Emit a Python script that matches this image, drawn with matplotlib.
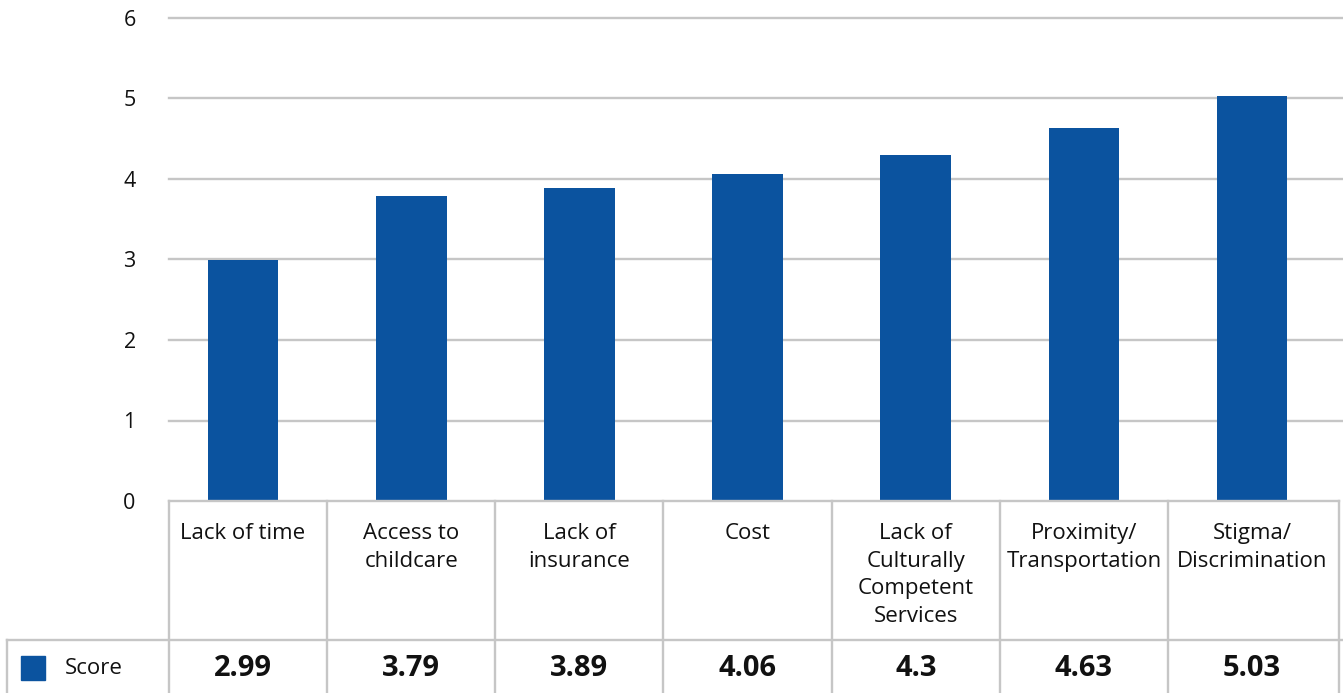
import matplotlib
matplotlib.use("Agg")
from matplotlib import pyplot as plt
from matplotlib.patches import Rectangle

# Scores per barrier
categories = ["Lack of time", "Access to\nchildcare", "Lack of\ninsurance", "Cost",
              "Lack of\nCulturally\nCompetent\nServices", "Proximity/\nTransportation",
              "Stigma/\nDiscrimination"]
scores = [2.99, 3.79, 3.89, 4.06, 4.3, 4.63, 5.03]
series_name = "Score"
yticks = [0, 1, 2, 3, 4, 5, 6]

BLUE = "#0b539f"
GRID = "#c6c6c6"
INK = "#111111"

plt.rcParams["font.family"] = ["Open Sans", "DejaVu Sans"]

W, H = 1343, 693
fig = plt.figure(figsize=(W / 100, H / 100), dpi=100)
left, right, top, bottom = 169, 1343, 18, 501
ax = fig.add_axes([left / W, 1 - bottom / H, (right - left) / W, (bottom - top) / H])

xs = list(range(len(categories)))
ax.bar(xs, scores, width=0.42, color=BLUE, zorder=3)

ax.set_xlim(-0.44, 6.54)
ax.set_ylim(0, 6)
ax.set_yticks(yticks)
ax.set_yticklabels([str(t) for t in yticks], fontsize=15.5, color=INK)
ax.set_xticks([])
ax.tick_params(axis="y", length=0, pad=24)
for s in ax.spines.values():
    s.set_visible(False)
for t in yticks[1:]:
    ax.axhline(t, color=GRID, lw=1.7, zorder=1, clip_on=False)

# data table below the axis
xt = ax.get_xaxis_transform()
def ay(py):
    return -(py - bottom) / (bottom - top)

def ax_x(px):
    return (px - left) / (right - left)

row1 = ay(640)
row2 = ay(700)
legend_left = ax_x(7)
table_right = 6.517
lw = 1.7

ax.plot([ax.get_xlim()[0], table_right], [0, 0], transform=xt, color=GRID, lw=lw, clip_on=False, zorder=4)
ax.plot([legend_left, 1], [row1, row1], transform=ax.transAxes, color=GRID, lw=lw, clip_on=False)
ax.plot([legend_left, legend_left], [row1, row2], transform=ax.transAxes, color=GRID, lw=lw, clip_on=False)
ax.plot([0, 0], [0, row2], transform=ax.transAxes, color=GRID, lw=lw, clip_on=False)
for i in range(len(categories) - 1):
    ax.plot([i + 0.5, i + 0.5], [0, row2], transform=xt, color=GRID, lw=lw, clip_on=False)
ax.plot([table_right, table_right], [0, row2], transform=xt, color=GRID, lw=lw, clip_on=False)

for x, name, val in zip(xs, categories, scores):
    ax.text(x, ay(523), name, transform=xt, ha="center", va="top",
            fontsize=16, linespacing=1.42, color=INK)
    ax.text(x, ay(668), f"{val:g}", transform=xt, ha="center",
            va="center", fontsize=21, fontweight="bold", color=INK)

# series key in the first cell
ax.add_patch(Rectangle((ax_x(21), ay(680)), 24 / (right - left), 24 / (bottom - top),
                       transform=ax.transAxes, color=BLUE, clip_on=False))
ax.text(ax_x(65), ay(668), series_name, transform=ax.transAxes, ha="left",
        va="center", fontsize=16, color=INK)

fig.savefig("out.png", dpi=100)
